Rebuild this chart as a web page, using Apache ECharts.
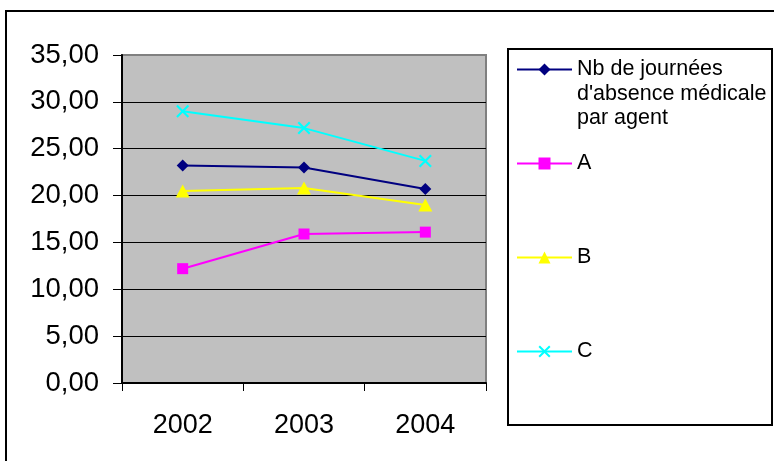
<!DOCTYPE html>
<html>
<head>
<meta charset="utf-8">
<script src="https://cdn.jsdelivr.net/npm/echarts@6/dist/echarts.min.js"></script>
<style>
  html, body { margin: 0; padding: 0; background: #fff; }
  #chart { width: 774px; height: 461px; }
</style>
</head>
<body>
<div id="chart"></div>
<script>
// Years on the category axis
const years = ['2002', '2003', '2004'];

// Average days of medical absence per agent, overall and by category
const nbJournees = [23.2, 23.0, 20.7];
const serieA = [12.2, 15.9, 16.1];
const serieB = [20.5, 20.8, 19.0];
const serieC = [29.0, 27.2, 23.7];

const seriesNames = ["Nb de journées d'absence médicale par agent", 'A', 'B', 'C'];

// Value axis range
const yMin = 0;
const yMax = 35;
const yStep = 5;

const FONT = '"Liberation Sans", Arial, sans-serif';
const LEGEND_LINE = 24.5;
const LEGEND_ICON_H = 15;

// A filled "x" cross marker
const crossPath = 'path://M0,1.4L1.4,0L6,4.6L10.6,0L12,1.4L7.4,6L12,10.6L10.6,12L6,7.4L1.4,12L0,10.6L4.6,6Z';

function frLabel(v) {
  return v.toFixed(2).replace('.', ',');
}

// One legend block per series; iconY is the vertical centre of the key
function legendFor(name, iconY, label) {
  // Legend text is centred on its key, so the long label gets two empty
  // lines on top to keep its first line level with the key.
  const lines = label ? label.split('\n').length : 1;
  const blank = lines > 1 ? lines - 1 : 0;
  const total = lines + blank;
  const top = iconY - Math.max(total * LEGEND_LINE, LEGEND_ICON_H) / 2;
  const text = label ? '\n'.repeat(blank) + label : null;
  return {
    data: [name],
    orient: 'vertical',
    left: 516,
    top: top,
    padding: 0,
    itemWidth: 55,
    itemHeight: LEGEND_ICON_H,
    selectedMode: false,
    formatter: text ? function () { return text; } : undefined,
    textStyle: {
      fontFamily: FONT,
      fontSize: 21.5,
      color: '#000',
      lineHeight: LEGEND_LINE
    }
  };
}

const chart = echarts.init(document.getElementById('chart'), null, { renderer: 'canvas' });

chart.setOption({
  animation: false,
  backgroundColor: '#fff',
  textStyle: { fontFamily: FONT },
  grid: {
    left: 122,
    top: 55,
    right: 288,
    bottom: 78,
    show: true,
    backgroundColor: '#C0C0C0',
    borderColor: '#808080',
    borderWidth: 2
  },
  legend: [
    legendFor(seriesNames[0], 69.5, "Nb de journées\nd'absence médicale\npar agent"),
    legendFor(seriesNames[1], 163.5),
    legendFor(seriesNames[2], 257.5),
    legendFor(seriesNames[3], 351.5)
  ],
  xAxis: {
    type: 'category',
    data: years,
    boundaryGap: true,
    axisLine: { lineStyle: { color: '#000', width: 2 } },
    axisTick: { show: true, length: 8, inside: false, lineStyle: { color: '#000', width: 1 } },
    axisLabel: { color: '#000', fontSize: 27, fontFamily: FONT, margin: 29 },
    splitLine: { show: false }
  },
  yAxis: {
    type: 'value',
    min: yMin,
    max: yMax,
    interval: yStep,
    axisLine: { show: true, lineStyle: { color: '#000', width: 2 } },
    axisTick: { show: true, length: 9, inside: false, lineStyle: { color: '#000', width: 1 } },
    axisLabel: { color: '#000', fontSize: 27.5, fontFamily: FONT, margin: 23, formatter: frLabel },
    splitLine: { show: true, showMaxLine: false, lineStyle: { color: '#000', width: 1 } }
  },
  series: [
    {
      name: seriesNames[0],
      type: 'line',
      data: nbJournees,
      symbol: 'diamond',
      symbolSize: 12,
      lineStyle: { color: '#000080', width: 2 },
      itemStyle: { color: '#000080' }
    },
    {
      name: seriesNames[1],
      type: 'line',
      data: serieA,
      symbol: 'rect',
      symbolSize: 11,
      lineStyle: { color: '#FF00FF', width: 2 },
      itemStyle: { color: '#FF00FF' }
    },
    {
      name: seriesNames[2],
      type: 'line',
      data: serieB,
      symbol: 'triangle',
      symbolSize: [14, 13],
      lineStyle: { color: '#FFFF00', width: 2 },
      itemStyle: { color: '#FFFF00' }
    },
    {
      name: seriesNames[3],
      type: 'line',
      data: serieC,
      symbol: crossPath,
      symbolSize: 13,
      lineStyle: { color: '#00FFFF', width: 2 },
      itemStyle: { color: '#00FFFF' }
    }
  ],
  graphic: [
    {
      type: 'rect',
      silent: true,
      shape: { x: 6, y: 11, width: 800, height: 500 },
      style: { fill: null, stroke: '#000', lineWidth: 2 }
    },
    {
      type: 'rect',
      silent: true,
      shape: { x: 508, y: 49, width: 264, height: 376 },
      style: { fill: null, stroke: '#000', lineWidth: 2 }
    }
  ]
});
</script>
</body>
</html>
